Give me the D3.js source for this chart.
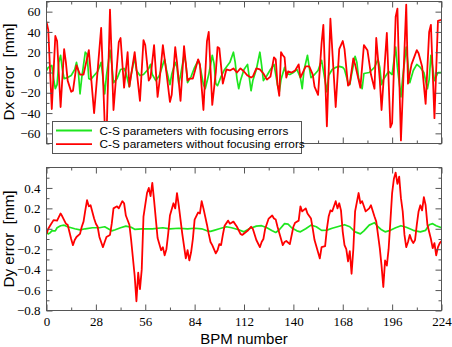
<!DOCTYPE html>
<html><head><meta charset="utf-8">
<script src="https://cdn.jsdelivr.net/npm/d3@7"></script>
<style>body{margin:0;background:#fff}</style>
</head><body>
<svg id="c" width="452" height="347"></svg>
<script>
// ---------- data ----------
const xMajorTicks = [0, 28, 56, 84, 112, 140, 168, 196, 224];
const xMinorTicks = [14, 42, 70, 98, 126, 154, 182, 210];
const dxMajorTicks = [-60, -40, -20, 0, 20, 40, 60];
const dxMinorTicks = [-70, -50, -30, -10, 10, 30, 50, 70];
const dyMajorTicks = [-0.8, -0.6, -0.4, -0.2, 0, 0.2, 0.4];
const dyMinorTicks = [-0.7, -0.5, -0.3, -0.1, 0.1, 0.3, 0.5, 0.6];
const seriesNames = ["C-S parameters with focusing errors", "C-S parameters without focusing errors"];

// [BPM number, Dx error mm]
const dxWithFocusing = [[0,2],[1,5],[3,7],[4,-6],[5,-16],[6,-12],[7,10],[8,17],[9,3],[10,-6],[12,-5],[14,-3],[16,3],[17,10],[18,2],[19,-21],[20,-5],[22,20],[23,18],[24,-6],[25,-7],[27,-3],[29,1],[31,10],[32,-5],[33,-21],[34,-3],[36,22],[37,8],[38,-10],[40,-6],[42,3],[44,4],[45,0],[47,-14],[48,-2],[50,15],[51,2],[53,-3],[55,-2],[58,4],[59,8],[60,-2],[62,-8],[64,-3],[66,8],[67,13],[68,3],[70,-12],[71,-2],[73,10],[74,5],[75,-11],[76,-3],[78,17],[79,9],[80,-10],[82,-4],[84,5],[86,12],[87,7],[89,-12],[90,-16],[92,-2],[94,17],[95,9],[96,-11],[97,-13],[99,-4],[101,3],[104,10],[106,20],[107,10],[108,-6],[109,-16],[110,-8],[112,3],[114,8],[116,-18],[117,-8],[119,3],[121,20],[122,7],[123,-8],[125,-3],[127,3],[129,8],[131,-12],[132,-19],[133,-7],[135,5],[136,-1],[138,-2],[140,0],[142,3],[144,-5],[145,-16],[146,2],[148,17],[149,5],[150,-5],[152,-2],[154,2],[156,12],[157,2],[159,-19],[160,-3],[162,3],[164,5],[166,6],[168,5],[169,3],[171,-10],[172,-12],[173,-2],[175,16],[176,10],[177,-6],[179,-16],[180,-1],[183,0],[186,5],[188,13],[189,5],[190,-12],[191,-7],[194,1],[196,-2],[198,25],[199,5],[201,-24],[202,-5],[204,25],[205,8],[206,-10],[208,2],[210,8],[212,5],[214,0],[216,-16],[217,-7],[218,17],[219,5],[220,-8],[222,0],[224,0]];

const dxWithoutFocusing = [[0,50],[1,42],[3,-36],[5,36],[6,31],[8,-34],[10,23],[11,10],[12,-8],[14,-19],[15,-18],[17,7],[19,-2],[21,-2],[24,22],[27,-40],[31,44],[33,-50],[34,-66],[36,62],[38,-37],[41,30],[42,34],[44,-15],[46,20],[47,-14],[50,20],[53,-28],[55,32],[56,27],[58,-8],[59,-5],[61,27],[63,-24],[64,-10],[66,27],[68,0],[70,-29],[71,-22],[73,25],[74,10],[76,-28],[78,26],[80,-8],[81,-6],[83,-6],[86,13],[87,8],[89,-37],[91,31],[92,40],[94,-32],[96,0],[97,25],[98,24],[100,-11],[102,3],[104,2],[106,4],[108,0],[110,4],[112,1],[114,-3],[116,-5],[117,-4],[119,4],[121,3],[123,-1],[125,-7],[127,-4],[129,15],[130,13],[131,-12],[132,-23],[133,20],[134,17],[135,15],[136,-5],[137,1],[139,0],[141,2],[143,8],[144,-5],[147,6],[149,6],[151,-2],[152,-14],[154,-22],[156,29],[157,47],[159,-53],[161,53],[164,-34],[166,23],[168,31],[169,23],[171,-13],[172,-11],[174,14],[175,8],[178,-15],[180,27],[182,22],[184,-2],[186,-16],[187,34],[189,-7],[190,-37],[193,39],[195,-54],[196,-50],[198,55],[199,63],[201,-67],[204,67],[205,-11],[207,8],[210,22],[211,19],[213,6],[215,-31],[217,40],[218,47],[220,-45],[222,51],[224,52]];

// [BPM number, Dy error mm]
const dyWithFocusing = [[0,-0.03],[1,-0.05],[2,-0.04],[3,-0.02],[5,-0.02],[6,0.01],[8,0.03],[10,0.035],[12,0.02],[14,0.01],[16,0],[19,-0.01],[22,0],[26,0.01],[30,0.01],[33,0.02],[35,0.0],[37,-0.02],[39,-0.01],[42,0.01],[45,0.026],[48,0.015],[50,-0.005],[54,0],[60,0.0],[66,0.01],[70,0],[75,0.005],[80,0.0],[84,0.005],[88,0],[91,-0.02],[93,-0.025],[95,-0.015],[98,0.0],[102,0.02],[105,0.01],[109,-0.01],[112,-0.03],[115,0],[119,0.026],[122,0.03],[125,0.01],[128,-0.02],[130,-0.036],[132,-0.01],[135,0.05],[137,0.045],[139,0.01],[142,-0.02],[144,-0.03],[147,0],[150,0.036],[153,0.02],[156,-0.016],[159,-0.013],[162,0.005],[165,0.02],[169,0.04],[172,0.02],[175,-0.03],[178,-0.05],[180,-0.02],[183,0.036],[186,0.06],[188,0.02],[190,-0.01],[192,-0.03],[195,-0.015],[198,0.01],[201,0.03],[204,0.015],[208,-0.015],[212,-0.03],[215,-0.015],[217,0.04],[219,0.05],[221,0.03],[224,0.01]];

const dyWithoutFocusing = [[0,-0.05],[1,0],[2,0.03],[4,0.085],[6,0.08],[8,0.15],[9,0.12],[11,0.05],[12,0.04],[14,-0.1],[15,-0.16],[16,-0.11],[17,-0.08],[19,-0.05],[20,0.02],[21,0.07],[22,0.18],[23,0.28],[24,0.22],[25,0.23],[27,0.1],[28,0.05],[29,0.02],[30,-0.08],[32,-0.18],[33,-0.13],[34,-0.08],[36,-0.06],[37,0.05],[38,0.2],[40,0.22],[41,0.2],[43,0.27],[44,0.25],[45,0.13],[47,0.04],[48,-0.11],[50,-0.46],[51,-0.71],[52,-0.43],[53,-0.59],[54,-0.4],[55,0.12],[57,0.35],[58,0.4],[59,0.32],[60,0.45],[61,0.28],[63,-0.09],[65,-0.21],[66,-0.18],[67,-0.26],[68,-0.2],[69,-0.05],[70,0.13],[72,0.25],[73,0.2],[74,0.35],[75,0.23],[77,-0.05],[79,-0.29],[80,-0.21],[81,-0.31],[82,-0.23],[83,-0.1],[84,0.09],[86,0.16],[87,0.15],[88,0.27],[89,0.2],[91,0.04],[92,-0.05],[93,-0.13],[94,-0.16],[96,-0.24],[97,-0.21],[98,-0.15],[99,-0.16],[100,-0.06],[101,0.03],[103,0.08],[104,0.05],[106,0.07],[108,0.02],[110,-0.05],[111,-0.06],[114,-0.02],[116,0.02],[117,0],[119,-0.11],[121,-0.18],[122,-0.13],[123,-0.1],[124,0],[126,0.1],[128,0.13],[129,0.1],[130,0.09],[131,0.02],[133,-0.1],[134,-0.16],[135,-0.13],[136,-0.12],[138,-0.15],[140,0.02],[141,0.06],[143,0.08],[144,0.22],[145,0.17],[147,0.2],[148,0.15],[150,0.1],[151,0],[152,-0.11],[154,-0.23],[155,-0.29],[156,-0.18],[158,-0.17],[159,0],[160,0.12],[161,0.18],[162,0.17],[164,0.27],[165,0.2],[166,0.25],[167,0.18],[168,-0.03],[169,-0.16],[170,-0.2],[171,-0.32],[172,-0.22],[173,-0.44],[174,-0.2],[175,0.17],[177,0.35],[178,0.25],[179,0.27],[180,0.22],[181,0.17],[183,0.2],[184,0.23],[186,0.12],[187,0.07],[188,-0.06],[189,-0.19],[190,-0.36],[191,-0.57],[192,-0.31],[193,-0.36],[194,-0.2],[195,0.07],[196,0.35],[197,0.49],[198,0.55],[199,0.44],[200,0.51],[201,0.3],[202,0.17],[203,-0.06],[204,-0.18],[205,-0.13],[206,-0.06],[207,-0.11],[208,-0.14],[209,-0.11],[210,0.04],[211,0.17],[212,0.23],[213,0.18],[214,0.31],[215,0.23],[216,0.04],[218,-0.1],[219,-0.19],[220,-0.14],[221,-0.26],[222,-0.18],[223,-0.14],[224,-0.12]];

// ---------- drawing ----------
const GREEN = "#1ee61e", RED = "#ff0000", FRAME = "#555";
const SERIF = "'Liberation Serif', 'Times New Roman', serif";
const SANS = "'Liberation Sans', Arial, sans-serif";
const svg = d3.select("#c");
const L = 46.5, R = 441.5;
const x = d3.scaleLinear().domain([0, 224]).range([L, R]);

function panel(top, bottom, yDomain, yMajor, yMinor, yFmt, xLabels, greenData, redData, id) {
  const y = d3.scaleLinear().domain(yDomain).range([bottom, top]);
  const g = svg.append("g");
  svg.append("clipPath").attr("id", id).append("rect")
    .attr("x", L).attr("y", top).attr("width", R - L).attr("height", bottom - top);

  const line = d3.line().x(d => x(d[0])).y(d => y(d[1]));
  const lines = g.append("g").attr("clip-path", `url(#${id})`);
  lines.append("path").datum(greenData).attr("d", line)
    .attr("fill", "none").attr("stroke", GREEN).attr("stroke-width", 1.7).attr("stroke-linejoin", "round");
  lines.append("path").datum(redData).attr("d", line)
    .attr("fill", "none").attr("stroke", RED).attr("stroke-width", 1.8).attr("stroke-linejoin", "round");

  const style = (sel) => {
    sel.select(".domain").remove();
    sel.attr("font-family", null).attr("font-size", null);
    sel.style("color", FRAME);
    sel.selectAll("text").style("fill", "#000")
      .style("font-family", SERIF).style("font-size", "13px");
  };
  const noLab = () => "";
  g.append("g").attr("transform", `translate(0,${bottom})`)
    .call(d3.axisBottom(x).tickValues(xMajorTicks).tickSize(-6).tickPadding(6)
      .tickFormat(xLabels ? d3.format("d") : noLab)).call(style);
  g.append("g").attr("transform", `translate(0,${bottom})`)
    .call(d3.axisBottom(x).tickValues(xMinorTicks).tickSize(-3).tickFormat(noLab)).call(style);
  g.append("g").attr("transform", `translate(0,${top})`)
    .call(d3.axisTop(x).tickValues(xMajorTicks).tickSize(-6).tickFormat(noLab)).call(style);
  g.append("g").attr("transform", `translate(0,${top})`)
    .call(d3.axisTop(x).tickValues(xMinorTicks).tickSize(-3).tickFormat(noLab)).call(style);
  g.append("g").attr("transform", `translate(${L},0)`)
    .call(d3.axisLeft(y).tickValues(yMajor).tickSize(-6).tickPadding(6).tickFormat(yFmt)).call(style);
  g.append("g").attr("transform", `translate(${L},0)`)
    .call(d3.axisLeft(y).tickValues(yMinor).tickSize(-3).tickFormat(noLab)).call(style);
  g.append("g").attr("transform", `translate(${R},0)`)
    .call(d3.axisRight(y).tickValues(yMajor).tickSize(-6).tickFormat(noLab)).call(style);
  g.append("g").attr("transform", `translate(${R},0)`)
    .call(d3.axisRight(y).tickValues(yMinor).tickSize(-3).tickFormat(noLab)).call(style);

  g.append("rect").attr("x", L).attr("y", top).attr("width", R - L).attr("height", bottom - top)
    .attr("fill", "none").attr("stroke", FRAME).attr("stroke-width", 1);
  return {g, y};
}

const fmtDx = d => d3.format("d")(d);
const fmtDy = d => d === 0 ? "0" : d3.format(".1f")(d);

panel(1.5, 143.5, [-70, 70], dxMajorTicks, dxMinorTicks, fmtDx, false, dxWithFocusing, dxWithoutFocusing, "clipTop");
panel(167.5, 310.5, [-0.8, 0.6], dyMajorTicks, dyMinorTicks, fmtDy, true, dyWithFocusing, dyWithoutFocusing, "clipBot");

// legend
const lg = svg.append("g");
lg.append("rect").attr("x", 52.5).attr("y", 121.5).attr("width", 249).attr("height", 32)
  .attr("fill", "#fff").attr("stroke", FRAME).attr("stroke-width", 1);
[GREEN, RED].forEach((c, i) => {
  const yy = 130.5 + i * 13.7;
  lg.append("line").attr("x1", 56).attr("x2", 92).attr("y1", yy).attr("y2", yy)
    .attr("stroke", c).attr("stroke-width", 1.8);
  lg.append("text").attr("x", 99.5).attr("y", yy).attr("dy", "0.36em")
    .style("font-family", SANS).style("font-size", "11.8px")
    .attr("fill", "#000").text(seriesNames[i]);
});

// axis titles
svg.append("text").attr("transform", `translate(13.5,72) rotate(-90)`).attr("text-anchor", "middle")
  .style("font-family", SANS).style("font-size", "15.2px").attr("fill", "#000")
  .style("white-space", "pre").text("Dx error  [mm]");
svg.append("text").attr("transform", `translate(13.5,239) rotate(-90)`).attr("text-anchor", "middle")
  .style("font-family", SANS).style("font-size", "15.2px").attr("fill", "#000")
  .style("white-space", "pre").text("Dy error  [mm]");
svg.append("text").attr("x", 244).attr("y", 343.5).attr("text-anchor", "middle")
  .style("font-family", SANS).style("font-size", "15px").attr("fill", "#000").text("BPM number");
</script>
</body></html>
